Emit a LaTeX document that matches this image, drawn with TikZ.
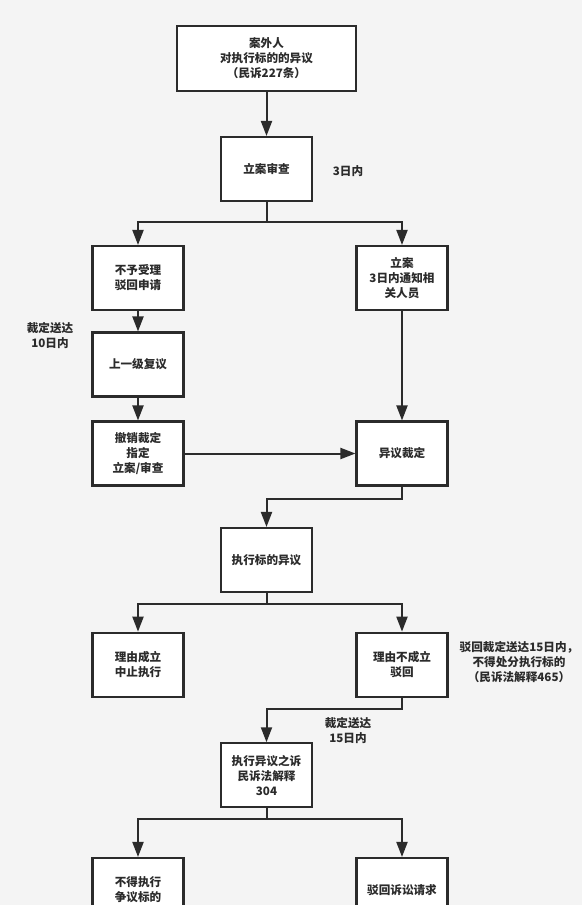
\documentclass[tikz,border=0pt]{standalone}
\usepackage{fontspec}
\setmainfont{Noto Sans CJK SC}
\usetikzlibrary{arrows.meta}
\definecolor{bgc}{HTML}{F4F4F4}
\definecolor{ln}{HTML}{2B2B2B}
\tikzset{
  box/.style={draw=ln, line width=2.1pt, fill=white, minimum width=91pt, minimum height=64pt,
    inner sep=2pt, align=center, font=\fontsize{11.6pt}{15pt}\selectfont\bfseries, text=ln},
  lbl/.style={align=center, font=\fontsize{11.6pt}{15pt}\selectfont\bfseries, text=ln, inner sep=0pt},
  arr/.style={draw=ln, line width=2pt, -{Triangle[length=15pt,width=11pt]}},
  ln/.style={draw=ln, line width=2pt}
}
\begin{document}
\begin{tikzpicture}[x=1pt,y=-1pt]
\fill[bgc] (0,0) rectangle (582,905);
\useasboundingbox (0,0) rectangle (582,905);
\begin{scope}
\clip (0,0) rectangle (582,905);
\node[box, minimum width=179pt, minimum height=65pt] (b1) at (266.5,58.5) {案外人\\对执行标的的异议\\（民诉227条）};
\node[box] (b2) at (266.5,169) {立案审查};
\node[box] (b3l) at (138,278) {不予受理\\驳回申请};
\node[box] (b3r) at (402,278) {立案\\3日内通知相\\关人员};
\node[box] (b4l) at (138,364.5) {上一级复议};
\node[box] (b5l) at (138,453.5) {撤销裁定\\指定\\立案/审查};
\node[box] (b5r) at (402,453.5) {异议裁定};
\node[box] (b6) at (266.5,560) {执行标的异议};
\node[box] (b7l) at (138,664.7) {理由成立\\中止执行};
\node[box] (b7r) at (402,664.7) {理由不成立\\驳回};
\node[box] (b8) at (266.5,775.3) {执行异议之诉\\民诉法解释\\304};
\node[box] (b9l) at (138,890) {不得执行\\争议标的};
\node[box] (b9r) at (402,890) {驳回诉讼请求};

\node[lbl] (t1) at (348,171.5) {3日内};
\node[lbl] (t2) at (50,335.5) {裁定送达\\10日内};
\node[lbl] (t3) at (519,662) {驳回裁定送达15日内，\\不得处分执行标的\\（民诉法解释465）};
\node[lbl] (t4) at (348,731) {裁定送达\\15日内};

\draw[arr] (b1) -- (b2);
\coordinate (s1) at (266.5,222);
\draw[ln] (b2.south) -- (s1);
\draw[arr] (s1) -| (b3l.north);
\draw[arr] (s1) -| (b3r.north);
\draw[arr] (b3l) -- (b4l);
\draw[arr] (b4l) -- (b5l);
\draw[arr] (b3r) -- (b5r);
\draw[arr] (b5l) -- (b5r);
\draw[arr] (b5r.south) -- ++(0,12) -| (b6.north);
\coordinate (s2) at (266.5,604);
\draw[ln] (b6.south) -- (s2);
\draw[arr] (s2) -| (b7l.north);
\draw[arr] (s2) -| (b7r.north);
\draw[arr] (b7r.south) -- ++(0,11) -| (b8.north);
\coordinate (s3) at (266.5,819);
\draw[ln] (b8.south) -- (s3);
\draw[arr] (s3) -| (b9l.north);
\draw[arr] (s3) -| (b9r.north);
\end{scope}
\end{tikzpicture}
\end{document}
